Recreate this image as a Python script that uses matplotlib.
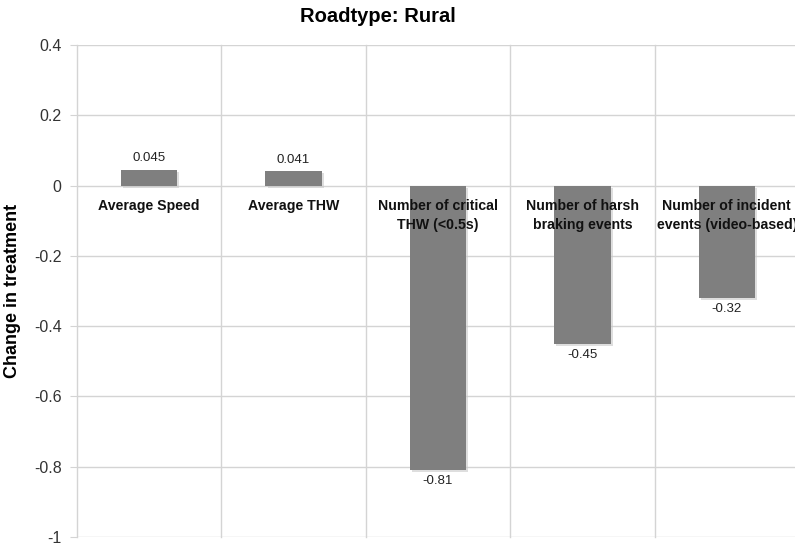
import matplotlib
matplotlib.use("Agg")
import matplotlib.pyplot as plt
import matplotlib.patheffects as pe

plt.rcParams['font.family'] = ['Liberation Sans', 'DejaVu Sans']

categories = ["Average Speed", "Average THW", "Number of critical\nTHW (<0.5s)",
              "Number of harsh\nbraking events", "Number of incident\nevents (video-based)"]
values = [0.045, 0.041, -0.81, -0.45, -0.32]
value_labels = ["0.045", "0.041", "-0.81", "-0.45", "-0.32"]
yticks = [0.4, 0.2, 0, -0.2, -0.4, -0.6, -0.8, -1]
ytick_labels = ["0.4", "0.2", "0", "-0.2", "-0.4", "-0.6", "-0.8", "-1"]

W, H = 795, 544
fig = plt.figure(figsize=(W/100, H/100), dpi=100)
ax = fig.add_axes([77/W, 1-537/H, (799-77)/W, (537-45)/H])

x = list(range(len(categories)))
bars = ax.bar(x, values, width=0.39, color='#7f7f7f', zorder=3,
              path_effects=[pe.SimplePatchShadow(offset=(1.5, -1.5), shadow_rgbFace='#c8c8c8', alpha=0.6), pe.Normal()])

ax.set_xlim(-0.5, len(categories)-0.5)
ax.set_ylim(-1, 0.4)
ax.set_yticks(yticks)
ax.set_yticklabels(ytick_labels, fontsize=11.5, color='#333333')
ax.set_xticks([])
for b in [i - 0.5 for i in range(len(categories)+1)]:
    ax.axvline(b, color='#d4d4d4', lw=1, zorder=1, clip_on=False)
for yv in yticks:
    ax.axhline(yv, color='#d4d4d4', lw=1, zorder=1)
ax.tick_params(axis='y', length=5, color='#d4d4d4', pad=6)
for s in ax.spines.values():
    s.set_visible(False)

for xi, v, lab in zip(x, values, value_labels):
    if v >= 0:
        ax.text(xi, v + 0.015, lab, ha='center', va='bottom', fontsize=9.5, color='#222222', zorder=5)
    else:
        ax.text(xi, v - 0.015, lab, ha='center', va='top', fontsize=9.5, color='#222222', zorder=5)

for xi, c in zip(x, categories):
    ax.text(xi, -0.038, c, ha='center', va='top', fontsize=10.2, fontweight='bold',
            color='#111111', zorder=6, linespacing=1.45)

ax.set_ylabel("Change in treatment", fontsize=13, fontweight='bold', labelpad=9)
fig.text(378/W, 1-17/H, "Roadtype: Rural", ha='center', va='center', fontsize=14.5, fontweight='bold')

fig.savefig("out.png", dpi=100)
